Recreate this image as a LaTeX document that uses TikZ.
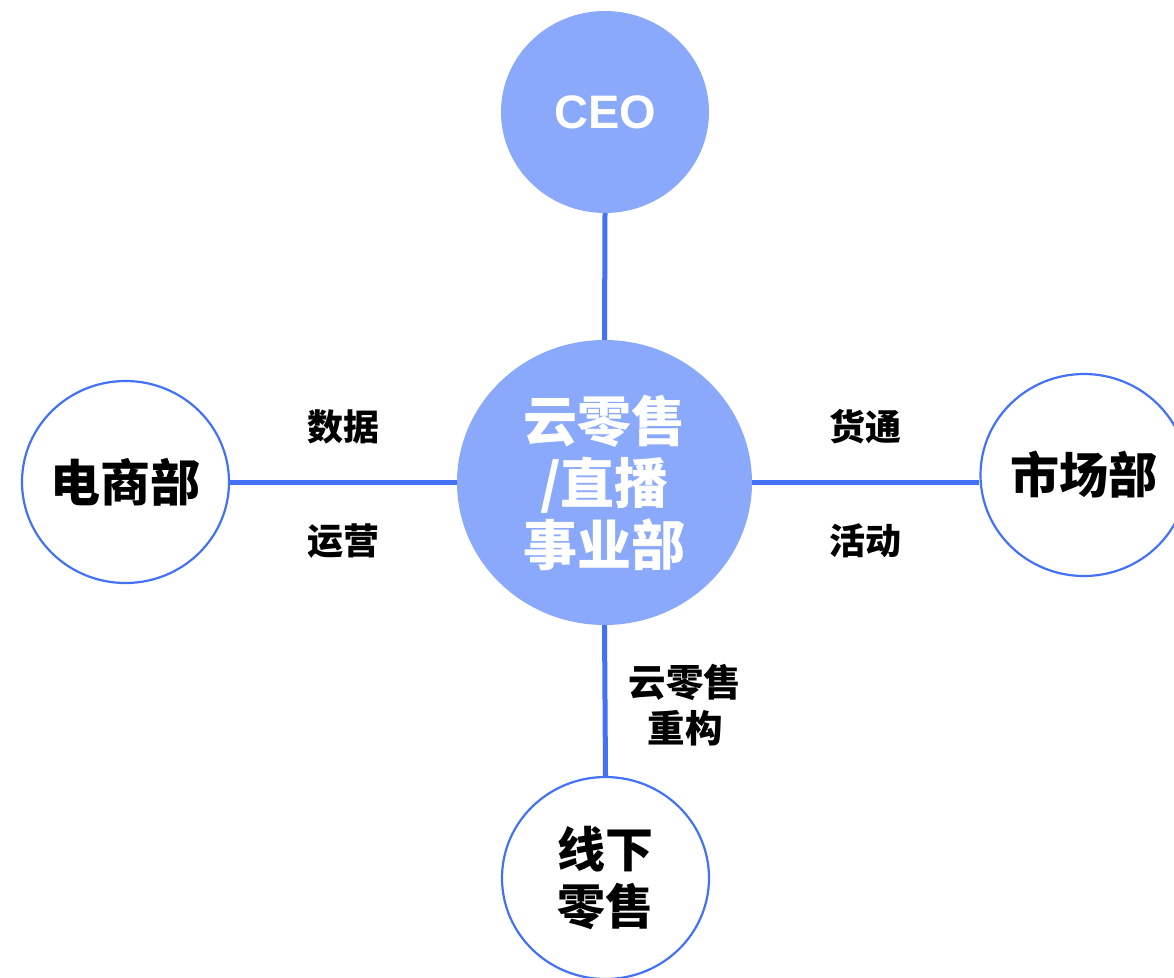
\documentclass[tikz,border=0pt]{standalone}
\usepackage{fontspec}
\usetikzlibrary{shapes.geometric}
\newfontfamily\cjk{Noto Sans CJK SC}
\newfontfamily\latinb{Liberation Sans}
\definecolor{linkblue}{HTML}{4472F6}
\definecolor{fillblue}{HTML}{8AA9FA}
\tikzset{
  x=1pt, y=-1pt,
  hub/.style={ellipse, fill=fillblue, draw=none, inner sep=0pt, text=white, align=center},
  dept/.style={ellipse, fill=white, draw=linkblue, line width=2.2pt, inner sep=0pt, text=black, align=center,
    minimum width=207pt, minimum height=202pt},
  link/.style={draw=linkblue, line width=5pt},
  lbl/.style={text=black, align=center, font=\cjk\bfseries\fontsize{36}{46}\selectfont, inner sep=0pt}
}
\begin{document}
\begin{tikzpicture}
\useasboundingbox (0,0) rectangle (1174,977);
\node[hub, minimum width=208pt, minimum height=202pt, font=\latinb\bfseries\fontsize{47}{50}\selectfont] (ceo) at (605,112) {CEO};
\node[hub, minimum width=295pt, minimum height=285pt, font=\cjk\bfseries\fontsize{54}{62}\selectfont] (mid) at (604.5,482.5) {云零售\\/直播\\事业部};
\node[dept, font=\cjk\bfseries\fontsize{50}{56}\selectfont] (ec) at (125.5,482) {\makebox[0pt][c]{电商部}};
\node[dept, font=\cjk\bfseries\fontsize{49}{56}\selectfont] (mk) at (1084,475) {\makebox[0pt][c]{市场部}};
\node[dept, font=\cjk\bfseries\fontsize{48}{57}\selectfont] (off) at (605.5,878) {线下\\零售};
\draw[link] (ceo.south) -- (mid.north);
\draw[link] (mid.west) -- (ec.east |- mid.west);
\draw[link] (mid.east) -- (mk.west |- mid.east);
\draw[link] (mid.south) -- (off.north);
\node[lbl] (l1) at (343,427) {数据};
\node[lbl] (l2) at (343,541) {运营};
\node[lbl] (l3) at (865,427) {货通};
\node[lbl] (l4) at (865,541) {活动};
\node[lbl, font=\cjk\bfseries\fontsize{37.5}{46}\selectfont] (l5) at (685,705) {云零售\\重构};
\end{tikzpicture}
\end{document}
